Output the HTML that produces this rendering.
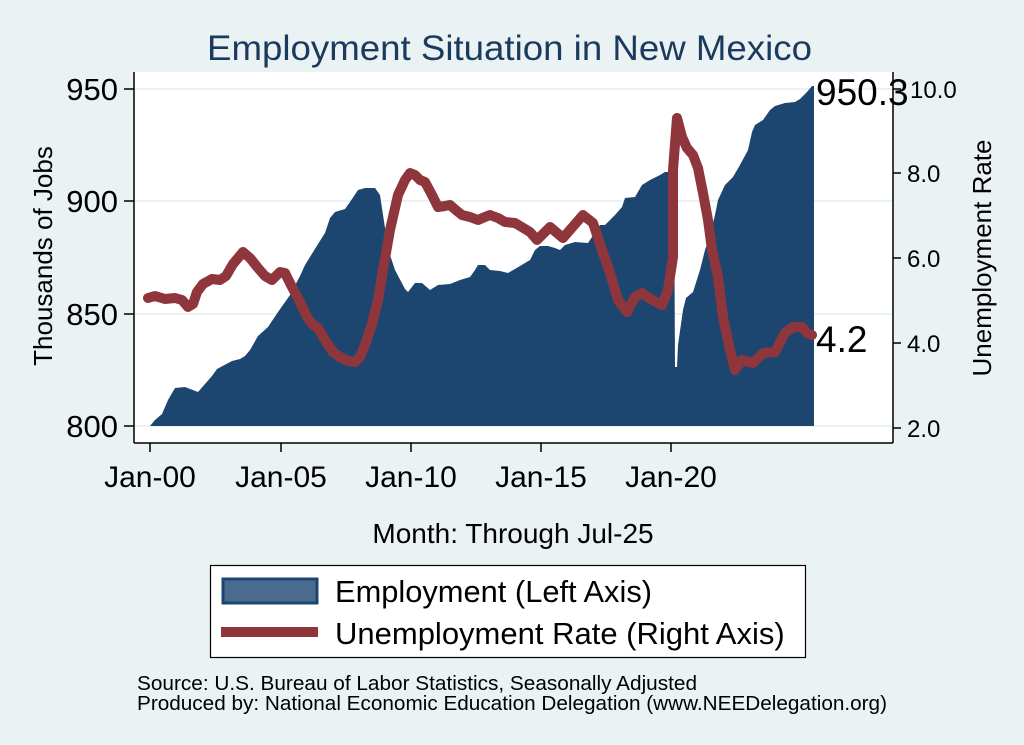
<!DOCTYPE html>
<html><head><meta charset="utf-8"><style>
body{margin:0;background:#eaf2f3;}
svg{display:block;font-family:"Liberation Sans",Arial,sans-serif;}
</style></head><body>
<svg width="1024" height="745" viewBox="0 0 1024 745" xmlns="http://www.w3.org/2000/svg">
<rect width="1024" height="745" fill="#eaf2f3"/>
<text x="207" y="60" font-size="35" fill="#1a3a5e" textLength="605" lengthAdjust="spacingAndGlyphs">Employment Situation in New Mexico</text>
<rect x="134" y="72" width="759" height="371" fill="#fff"/>
<g stroke="#eaf2f3" stroke-width="2">
<line x1="134" y1="89" x2="893" y2="89"/><line x1="134" y1="201" x2="893" y2="201"/>
<line x1="134" y1="314" x2="893" y2="314"/><line x1="134" y1="426" x2="893" y2="426"/>
</g>
<polygon fill="#1c4670" points="150,426 155,420 162,414 168,400 175,388 185,387 198,392 212,376 217,369 232,361 240,359 245,356 250,350 258,336 268,327 278,312 290,295 300,276 305,265 318,244 325,233 330,218 335,212 345,209 350,202 358,190 365,188 375,188 380,195 385,228 390,255 395,270 405,289 408,292 415,283 422,283 430,290 438,285 450,284 460,280 470,277 475,270 478,265 485,265 490,270 500,271 508,273 520,266 530,260 535,250 540,246 548,246 555,248 560,250 565,245 575,242 588,243 590,240 600,225 605,225 615,215 622,207 625,198 635,197 642,185 650,180 660,175 665,172 674,172 675,367 677,367 678,345 683,310 686,298 693,292 700,270 705,250 710,235 715,215 718,200 725,185 733,177 740,165 748,150 752,132 755,125 763,120 770,110 775,106 785,103 795,102 800,99 807,92 812,86 814,86 814,426"/>
<polyline fill="none" stroke="#8f363d" stroke-width="10" stroke-linejoin="round" stroke-linecap="round" points="148,298 155,296 165,299 175,298 182,300 188,307 193,304 197,292 203,284 212,279 220,280 226,276 233,264 243,252 250,258 258,268 265,276 272,280 280,272 285,273 292,287 300,302 307,317 313,325 318,328 325,340 333,352 340,357 348,361 355,362 360,357 365,345 372,324 378,300 383,270 390,230 398,195 405,180 410,173 415,175 420,180 425,182 432,195 438,207 445,206 450,205 457,211 462,215 470,217 478,220 485,217 490,215 498,218 505,222 515,223 520,226 530,232 537,240 550,227 563,238 583,215 593,223 602,250 610,273 618,300 627,312 635,297 642,293 652,300 662,305 668,290 673,257 673,170 677,118 682,137 687,148 693,155 698,168 703,193 708,220 712,250 718,277 723,317 730,350 735,370 742,360 753,363 763,353 775,352 785,333 793,327 802,327 807,333 812,335"/>
<g stroke="#000" stroke-width="1.5" fill="none">
<line x1="134" y1="72" x2="134" y2="443"/><line x1="134" y1="443" x2="893" y2="443"/><line x1="893" y1="72" x2="893" y2="443"/>
<line x1="124" y1="89" x2="134" y2="89"/><line x1="124" y1="201" x2="134" y2="201"/><line x1="124" y1="314" x2="134" y2="314"/><line x1="124" y1="426" x2="134" y2="426"/>
<line x1="893" y1="89" x2="901" y2="89"/><line x1="893" y1="173" x2="901" y2="173"/><line x1="893" y1="258" x2="901" y2="258"/><line x1="893" y1="343" x2="901" y2="343"/><line x1="893" y1="428" x2="901" y2="428"/>
<line x1="150" y1="443" x2="150" y2="452"/><line x1="281" y1="443" x2="281" y2="452"/><line x1="411" y1="443" x2="411" y2="452"/><line x1="541" y1="443" x2="541" y2="452"/><line x1="671" y1="443" x2="671" y2="452"/>
</g>
<g font-size="31" text-anchor="end" fill="#000">
<text x="118" y="100">950</text><text x="118" y="212">900</text><text x="118" y="325">850</text><text x="118" y="437">800</text>
</g>
<g font-size="24" fill="#000">
<text x="910" y="98">10.0</text><text x="907" y="182">8.0</text><text x="907" y="267">6.0</text><text x="907" y="352">4.0</text><text x="907" y="437">2.0</text>
</g>
<text x="816" y="105" font-size="37">950.3</text>
<text x="816" y="352" font-size="37">4.2</text>
<g font-size="30" text-anchor="middle">
<text x="150" y="487">Jan-00</text><text x="281" y="487">Jan-05</text><text x="411" y="487">Jan-10</text><text x="541" y="487">Jan-15</text><text x="671" y="487">Jan-20</text>
</g>
<text transform="translate(52,256) rotate(-90)" font-size="26" text-anchor="middle">Thousands of Jobs</text>
<text transform="translate(991,258) rotate(-90)" font-size="26" text-anchor="middle">Unemployment Rate</text>
<text x="513" y="543" font-size="28" text-anchor="middle">Month: Through Jul-25</text>
<rect x="210.5" y="565.5" width="595" height="92" fill="#fff" stroke="#000" stroke-width="1.2"/>
<rect x="223" y="579" width="94" height="24" fill="#4a6b8d" stroke="#1c4670" stroke-width="3"/>
<rect x="221" y="627" width="97" height="10" fill="#8f363d"/>
<text x="335" y="602" font-size="31" textLength="317" lengthAdjust="spacingAndGlyphs">Employment (Left Axis)</text>
<text x="335" y="644" font-size="31">Unemployment Rate (Right Axis)</text>
<text x="137" y="690" font-size="20.5" textLength="560" lengthAdjust="spacingAndGlyphs">Source: U.S. Bureau of Labor Statistics, Seasonally Adjusted</text>
<text x="137" y="710" font-size="20.5" textLength="750" lengthAdjust="spacingAndGlyphs">Produced by: National Economic Education Delegation (www.NEEDelegation.org)</text>
</svg>
</body></html>
